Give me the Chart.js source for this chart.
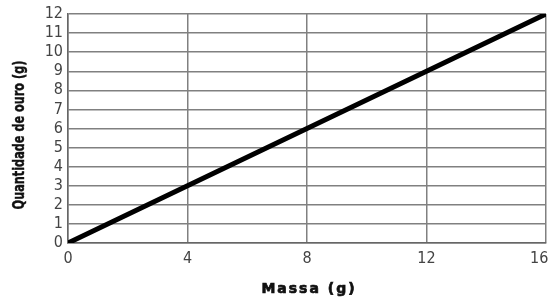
<!DOCTYPE html>
<html>
<head>
<meta charset="utf-8">
<script src="https://cdn.jsdelivr.net/npm/chart.js@4/dist/chart.umd.min.js"></script>
<style>
  html, body { margin: 0; padding: 0; background: #fff; }
  #wrap { width: 551px; height: 297px; }
</style>
</head>
<body>
<div id="wrap"><canvas id="chart" width="551" height="297"></canvas></div>
<script>
const massa = [0, 4, 8, 12, 16];
const ouro = [0, 3, 6, 9, 12];
const xTicks = [0, 4, 8, 12, 16];
const yTicks = [0, 1, 2, 3, 4, 5, 6, 7, 8, 9, 10, 11, 12];
const xTitle = "Massa (g)";
const yTitle = "Quantidade de ouro (g)";

const fontFam = "'DejaVu Sans Condensed', 'DejaVu Sans', sans-serif";

// axis titles drawn by hand so they can be condensed / letter-spaced like the original
const titlePlugin = {
    id: "titles",
    afterDraw(chart) {
        const ctx = chart.ctx;
        ctx.save();
        ctx.fillStyle = "#111";
        ctx.strokeStyle = "#111";
        ctx.lineWidth = 0.7;
        ctx.textAlign = "center";
        ctx.textBaseline = "middle";
        ctx.font = "bold 14px 'DejaVu Sans', sans-serif";
        ctx.letterSpacing = "2px";
        ctx.fillText(xTitle, 309, 289);
        ctx.strokeText(xTitle, 309, 289);
        ctx.letterSpacing = "0px";
        ctx.translate(20, 135);
        ctx.rotate(-Math.PI / 2);
        ctx.scale(0.835, 1);
        ctx.font = "bold 15px " + fontFam;
        ctx.fillText(yTitle, 0, 0);
        ctx.lineWidth = 0.4;
        ctx.strokeText(yTitle, 0, 0);
        ctx.restore();
    }
};

new Chart(document.getElementById("chart").getContext("2d"), {
    type: "scatter",
    data: {
        datasets: [{
            data: massa.map((m, i) => ({ x: m, y: ouro[i] })),
            showLine: true,
            borderColor: "#000",
            borderWidth: 5,
            borderCapStyle: "round",
            pointRadius: 0,
            fill: false
        }]
    },
    options: {
        responsive: false,
        animation: false,
        layout: { padding: { top: 14, right: 5, left: 0, bottom: 0 } },
        plugins: { legend: { display: false }, tooltip: { enabled: false } },
        scales: {
            x: {
                type: "linear",
                min: 0,
                max: 16,
                afterBuildTicks: axis => { axis.ticks = xTicks.map(v => ({ value: v })); },
                afterFit: axis => { axis.height = 54; axis.paddingLeft = 0; axis.paddingRight = 0; },
                grid: { color: "#808080", lineWidth: 1.5, drawTicks: false },
                border: { color: "#666", width: 1.5 },
                ticks: {
                    color: "#444", font: { family: fontFam, size: 16 }, padding: 6, maxRotation: 0,
                    // last label sits a little inside the frame in the original
                    callback: v => v === 16 ? "16   " : String(v)
                },
                title: { display: false }
            },
            y: {
                min: 0,
                max: 12,
                afterBuildTicks: axis => { axis.ticks = yTicks.map(v => ({ value: v })); },
                afterFit: axis => { axis.width = 68; axis.paddingTop = 0; axis.paddingBottom = 0; },
                grid: { color: "#808080", lineWidth: 1.5, drawTicks: false },
                border: { color: "#666", width: 1.5 },
                ticks: { color: "#444", font: { family: fontFam, size: 16 }, padding: 5, autoSkip: false },
                title: { display: false }
            }
        }
    },
    plugins: [titlePlugin]
});
</script>
</body>
</html>
